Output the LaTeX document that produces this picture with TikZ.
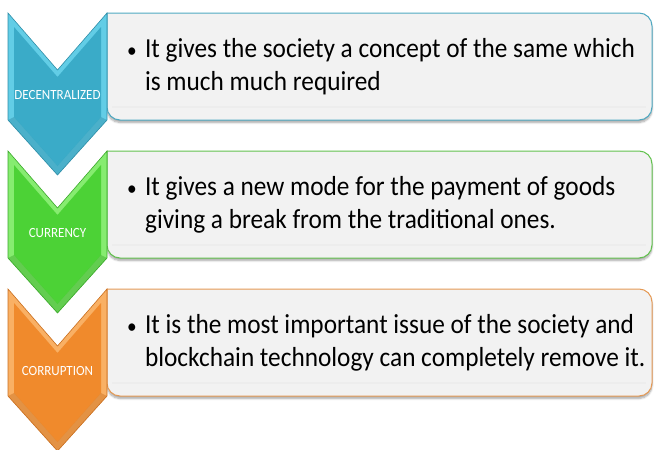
\documentclass[tikz,border=0pt]{standalone}
\usepackage{fontspec}
\setmainfont{Carlito}
\usetikzlibrary{shadows.blur}
\definecolor{bluebase}{HTML}{3AABC8}
\definecolor{bluelite}{HTML}{62CDE6}
\definecolor{blueedge}{HTML}{2F8EA8}
\definecolor{blueline}{HTML}{4FA9C2}
\definecolor{greenbase}{HTML}{4CD236}
\definecolor{greenlite}{HTML}{86EC70}
\definecolor{greenedge}{HTML}{3AA82A}
\definecolor{greenline}{HTML}{63C24F}
\definecolor{orangebase}{HTML}{F08A2C}
\definecolor{orangelite}{HTML}{F9B064}
\definecolor{orangeedge}{HTML}{C96E1E}
\definecolor{orangeline}{HTML}{E59A55}
\definecolor{boxfill}{HTML}{F2F2F2}
\tikzset{
  x=1pt, y=-1pt,
  infobox/.style={fill=boxfill, line width=1pt,
    blur shadow={shadow xshift=0pt, shadow yshift=-2.5pt, shadow blur steps=6, shadow opacity=35}},
  bodytext/.style={anchor=base west, inner sep=0pt, align=left, xscale=0.92,
    font=\fontsize{27.5}{33}\selectfont, text=black},
  tag/.style={anchor=base, text=white, inner sep=0pt, xscale=0.93,
    font=\fontsize{14}{16}\selectfont}
}
\newcommand{\smallbullet}{{\fontsize{21}{21}\selectfont\textbullet}}
% one step: chevron with top edge at y=#2 in colours #3/#4/#5, box outlined in #6
\newcommand{\stepitem}[8]{%
  \path[infobox, draw=#6, rounded corners=13pt]
    (107,#2) -- (652,#2) -- (652,#2+107) -- (107,#2+107) [sharp corners] -- cycle;
  \fill[black!7] (112,#2+93) rectangle (646,#2+95);
  \filldraw[fill=#4, draw=#5, line width=0.6pt] (8,#2) -- (57.5,#2+57) -- (107,#2) -- (107,#2+107) -- (57.5,#2+162) -- (8,#2+107) -- cycle;
  \fill[#3] (14,#2+14) -- (57.5,#2+64) -- (101,#2+14) -- (101,#2+104) -- (57.5,#2+153) -- (14,#2+104) -- cycle;
  \fill[#5, opacity=0.45] (8,#2+107) -- (57.5,#2+162) -- (107,#2+107) -- (101,#2+104) -- (57.5,#2+153) -- (14,#2+104) -- cycle;
  \node[tag] (#1tag) at (57.5,#2+86) {#7};
  \node[bodytext] (#1txt) at (127,#2+44) {\smallbullet\hspace{9pt}\begin{tabular}[t]{@{}l@{}}#8\end{tabular}};
}
\begin{document}
\begin{tikzpicture}
\useasboundingbox (0,0) rectangle (657,450);
\stepitem{dec}{13}{bluebase}{bluelite}{blueedge}{blueline}{DECENTRALIZED}{It gives the society a concept of the same which\\is much much required}
\stepitem{cur}{151}{greenbase}{greenlite}{greenedge}{greenline}{CURRENCY}{It gives a new mode for the payment of goods\\giving a break from the traditional ones.}
\stepitem{cor}{289}{orangebase}{orangelite}{orangeedge}{orangeline}{CORRUPTION}{It is the most important issue of the society and\\blockchain technology can completely remove it.}
\end{tikzpicture}
\end{document}
